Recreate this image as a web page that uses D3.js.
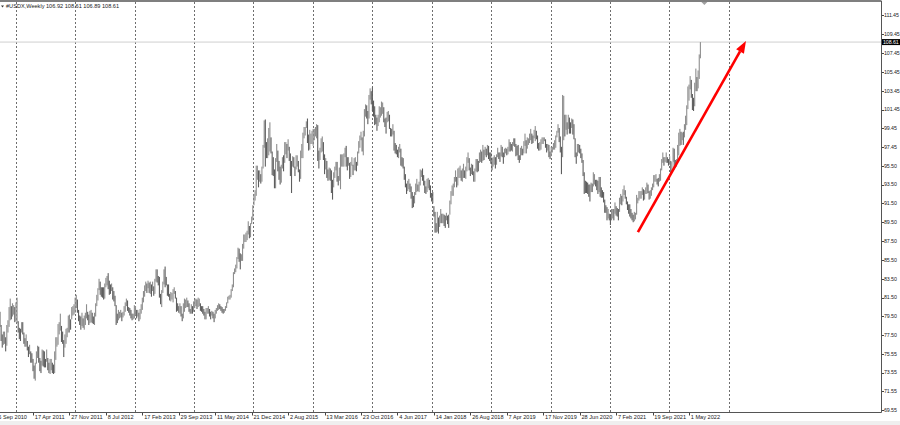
<!DOCTYPE html>
<html><head><meta charset="utf-8">
<script src="https://cdn.jsdelivr.net/npm/d3@7/dist/d3.min.js"></script>
<style>
html,body{margin:0;padding:0;background:#fff;overflow:hidden;}
svg{display:block;font-family:"Liberation Sans",Arial,sans-serif;}
</style></head><body>
<svg id="c" width="900" height="425"></svg>
<script>
// ---------- DATA ----------
const symbolName = "#USDX,Weekly";
const lastOHLC = [106.92, 108.61, 106.89, 108.61];
const firstWeek = "2010-09-19"; // weekly bars, one every 7 days from here
// weekly [low, high] per calendar year
const w2010 = [[79.8,81.6],[78.4,80.0],[76.9,78.6],[76.2,77.6],[76.5,77.9],[76.6,77.9],[75.8,77.3],[76.4,78.6],[77.8,79.1],[78.4,80.5],[79.1,81.4],[79.2,80.6],[79.5,80.9],[79.7,80.7],[78.9,80.5]];
const w2011 = [[79.0,81.0],[78.8,81.5],[77.8,79.0],[77.1,78.3],[76.9,78.2],[77.8,78.9],[77.6,78.9],[76.6,77.8],[76.3,77.2],[76.3,77.6],[75.9,76.9],[75.2,76.3],[75.5,76.5],[74.6,75.8],[74.6,75.6],[73.7,75.0],[72.9,74.3],[72.7,74.6],[74.5,75.8],[75.1,76.4],[74.6,76.3],[73.7,75.1],[73.5,74.8],[74.3,76.0],[74.2,75.9],[74.1,75.8],[74.1,75.0],[74.7,76.0],[73.8,75.1],[73.5,74.6],[73.4,75.0],[73.8,75.0],[73.5,74.6],[73.4,74.4],[73.5,75.8],[74.9,77.3],[76.3,77.3],[76.5,78.7],[77.6,78.9],[78.0,79.8],[76.8,78.5],[76.6,77.9],[75.2,77.0],[76.2,77.6],[76.6,78.2],[77.3,78.3],[77.8,79.6],[77.8,79.7],[78.1,79.2],[79.2,80.5],[79.6,80.6],[79.7,80.8]];
const w2012 = [[79.9,81.5],[80.4,81.8],[79.9,81.3],[79.0,80.2],[78.6,79.6],[78.1,79.5],[78.5,79.9],[78.3,79.3],[78.1,79.6],[78.6,79.9],[79.3,80.8],[79.1,80.0],[78.6,79.7],[78.8,80.1],[78.9,80.2],[78.8,79.9],[78.7,79.5],[78.6,79.9],[79.5,80.9],[80.6,81.8],[81.2,82.5],[82.3,83.5],[81.8,83.2],[81.6,82.6],[81.5,82.6],[81.3,82.6],[81.4,83.0],[82.6,83.6],[82.8,83.8],[82.4,84.1],[81.8,83.3],[81.9,82.9],[82.2,83.0],[81.3,82.6],[81.1,82.2],[80.6,81.7],[78.6,80.7],[78.8,79.8],[79.1,80.2],[79.3,80.0],[79.4,80.2],[79.0,79.9],[79.4,80.0],[79.6,80.6],[80.0,81.0],[80.6,81.4],[80.1,81.2],[79.9,80.5],[79.6,80.4],[79.3,80.2],[79.1,79.8],[79.2,79.8]];
const w2013 = [[79.3,80.7],[79.6,80.6],[79.3,80.2],[79.5,80.2],[79.0,79.9],[79.2,80.3],[79.8,80.8],[80.2,81.5],[81.0,82.2],[81.6,82.8],[82.2,83.2],[82.0,83.0],[82.5,83.3],[82.0,83.1],[81.9,83.2],[81.6,82.9],[82.2,83.2],[81.7,82.7],[81.9,83.5],[83.2,84.5],[83.1,84.5],[82.8,83.8],[81.5,83.7],[80.8,81.9],[80.5,82.3],[82.0,83.2],[82.9,84.5],[82.6,84.8],[82.8,83.7],[81.7,82.9],[81.6,82.9],[81.2,81.9],[81.1,82.1],[81.3,82.0],[81.0,82.4],[81.9,82.6],[81.4,82.2],[80.0,81.5],[80.1,80.9],[79.9,80.6],[79.8,80.9],[79.5,80.6],[79.0,79.8],[79.3,80.9],[80.0,81.4],[80.4,81.3],[80.5,81.5],[80.5,81.2],[80.0,80.9],[79.8,80.3],[79.8,80.8],[79.8,80.6]];
const w2014 = [[80.0,81.1],[80.4,81.3],[80.6,81.4],[80.3,81.3],[80.5,81.5],[80.6,81.4],[80.1,80.9],[80.0,80.6],[79.8,80.6],[79.6,80.3],[79.2,80.0],[79.2,80.4],[79.8,80.4],[79.8,80.6],[79.5,80.3],[79.2,80.0],[79.6,80.1],[79.3,80.0],[78.9,79.8],[79.3,80.2],[79.8,80.4],[80.1,80.7],[80.2,80.9],[80.3,80.8],[80.1,80.6],[79.9,80.5],[79.8,80.3],[79.9,80.3],[80.1,80.6],[80.4,81.0],[80.9,81.6],[81.3,81.7],[81.3,81.8],[81.5,82.4],[82.2,82.9],[82.6,84.2],[84.0,84.6],[84.2,85.0],[84.6,85.8],[85.6,86.8],[85.3,86.7],[84.5,86.2],[85.4,86.1],[85.4,87.2],[86.7,88.2],[87.4,88.2],[87.4,88.4],[87.6,88.6],[88.2,89.6],[87.8,89.1],[87.9,89.4],[89.3,90.1]];
const w2015 = [[89.7,91.3],[91.3,92.5],[91.8,92.9],[92.3,95.5],[94.0,95.5],[93.2,95.0],[93.8,95.0],[93.6,94.6],[93.8,95.4],[95.2,97.7],[97.4,100.3],[95.4,100.4],[96.3,98.0],[96.3,98.4],[96.6,99.5],[97.0,100.1],[96.8,98.5],[94.5,97.0],[94.4,96.4],[93.1,95.1],[93.1,96.3],[95.9,97.8],[94.9,97.1],[94.0,96.0],[93.5,95.4],[93.7,95.6],[95.2,96.4],[94.9,96.6],[95.8,98.0],[96.7,98.0],[96.3,97.8],[97.1,98.3],[96.0,97.5],[94.4,96.8],[92.6,96.0],[95.4,96.5],[95.3,96.4],[94.4,95.4],[95.1,96.6],[95.4,96.6],[94.8,96.0],[93.8,95.1],[94.1,97.1],[96.3,97.8],[96.3,99.0],[98.4,99.6],[98.7,99.6],[99.5,100.2],[97.9,100.5],[97.1,98.8],[97.2,99.3],[97.8,98.9],[97.8,99.2]];
const w2016 = [[97.6,99.4],[98.2,99.4],[98.6,99.6],[98.4,99.9],[96.0,99.8],[95.2,97.1],[96.1,97.4],[96.9,98.4],[97.0,98.6],[96.1,98.0],[94.6,96.7],[95.1,96.3],[94.2,96.0],[93.9,95.1],[94.0,95.3],[93.9,95.2],[92.6,95.0],[91.9,94.0],[93.2,94.8],[94.2,95.4],[95.0,95.9],[93.8,95.9],[93.4,94.4],[93.9,95.3],[93.0,96.7],[95.4,96.7],[95.4,96.7],[95.4,96.8],[96.4,97.4],[95.4,97.6],[95.0,96.4],[95.5,96.4],[94.1,95.8],[94.3,95.9],[95.5,96.4],[94.5,95.6],[95.0,96.3],[95.0,96.4],[94.9,95.9],[95.5,97.0],[96.8,98.1],[97.4,98.7],[98.2,99.1],[97.0,98.5],[96.6,99.2],[98.6,101.5],[100.7,102.0],[100.5,101.9],[99.9,101.3],[100.5,103.0],[102.5,103.7],[102.0,103.4]];
const w2017 = [[101.3,103.8],[100.7,102.4],[99.8,101.8],[99.9,100.9],[99.2,100.6],[99.7,100.9],[100.1,101.8],[100.6,101.7],[100.8,102.3],[101.0,102.2],[100.1,101.7],[99.6,100.5],[98.9,100.6],[100.1,101.2],[100.2,101.3],[99.4,100.9],[98.6,99.5],[98.6,99.4],[98.8,99.9],[97.1,99.2],[96.8,97.9],[96.7,97.7],[96.4,97.2],[96.3,97.5],[96.9,97.8],[95.5,97.3],[95.4,96.4],[95.2,96.3],[94.0,95.4],[93.2,94.6],[92.5,93.6],[92.8,93.9],[93.0,94.1],[92.7,93.6],[92.0,93.3],[91.0,92.7],[91.1,92.3],[91.5,92.7],[92.4,93.6],[92.7,94.1],[92.8,93.5],[92.7,93.8],[93.4,95.1],[94.3,95.0],[93.9,95.2],[93.4,94.5],[92.6,93.9],[92.5,93.3],[92.7,94.1],[93.1,94.2],[92.9,94.0],[92.1,93.4]];
const w2018 = [[91.7,92.6],[91.5,92.7],[90.1,91.2],[88.4,90.6],[88.4,89.4],[88.5,90.6],[88.3,90.0],[89.0,90.2],[89.4,90.9],[89.4,90.4],[89.4,90.4],[89.1,90.3],[88.9,90.2],[89.7,90.5],[89.3,90.2],[88.9,90.3],[90.3,91.8],[91.4,92.8],[92.3,93.4],[92.3,93.6],[93.2,94.3],[93.8,95.0],[93.2,94.3],[93.4,95.2],[94.2,95.3],[94.2,95.5],[93.9,95.0],[93.8,95.2],[94.2,95.7],[94.2,95.0],[94.1,95.4],[94.9,96.4],[95.8,96.9],[95.0,96.3],[94.4,95.3],[94.6,95.7],[94.5,95.6],[93.8,94.9],[93.8,95.2],[94.9,96.2],[94.8,96.2],[94.9,96.0],[95.8,96.9],[95.9,97.2],[95.8,97.0],[96.0,97.7],[96.1,97.2],[96.6,97.5],[96.4,97.3],[96.6,97.7],[96.2,97.6],[96.0,96.9]];
const w2019 = [[95.7,96.9],[95.0,96.3],[95.4,96.4],[95.6,96.6],[95.2,96.4],[95.6,96.7],[96.4,97.4],[96.2,96.9],[95.9,96.9],[96.5,97.7],[96.4,97.5],[95.7,96.9],[96.4,97.3],[96.8,97.4],[96.6,97.3],[96.7,97.5],[97.0,98.3],[97.0,98.0],[97.1,97.8],[97.0,98.0],[97.6,98.4],[97.5,98.4],[96.5,97.8],[96.6,97.6],[96.1,97.7],[95.8,96.6],[96.1,97.4],[96.6,97.6],[96.6,97.3],[96.8,98.1],[97.6,98.9],[96.8,98.2],[97.3,98.5],[97.7,98.4],[97.9,98.9],[98.2,99.4],[97.8,98.9],[97.9,98.7],[98.4,99.3],[98.1,99.7],[98.3,99.2],[97.3,98.7],[97.1,97.9],[97.1,98.0],[97.2,98.3],[97.8,98.5],[97.8,98.5],[98.1,98.5],[97.4,98.3],[96.9,97.8],[97.1,97.8],[96.4,97.7]];
const w2020 = [[96.2,97.0],[96.5,97.5],[96.9,97.5],[97.2,97.9],[97.2,98.2],[97.4,98.7],[98.5,99.2],[99.0,99.9],[98.0,99.5],[96.9,98.6],[94.6,97.5],[96.4,103.0],[98.2,102.9],[98.6,100.9],[99.3,100.9],[98.8,100.1],[99.4,100.9],[98.9,100.6],[98.9,100.1],[99.5,100.5],[98.8,100.4],[98.3,99.9],[96.4,98.4],[95.7,96.9],[96.5,97.8],[96.9,97.8],[96.8,97.7],[96.3,97.3],[95.8,96.8],[94.4,96.1],[92.5,94.8],[92.6,93.9],[92.6,93.8],[92.5,93.7],[92.2,93.5],[91.7,93.5],[92.7,93.7],[92.7,93.6],[93.3,94.8],[93.5,94.6],[93.3,94.0],[92.9,94.0],[92.5,93.9],[92.7,94.3],[92.2,94.3],[92.1,93.2],[92.1,92.9],[91.6,92.7],[90.5,91.9],[90.5,91.3],[89.7,91.1],[89.9,90.9],[89.7,90.4]];
const w2021 = [[89.2,90.3],[89.7,90.9],[89.9,90.9],[89.7,90.9],[90.4,91.6],[90.2,91.2],[90.1,91.0],[89.7,90.9],[90.6,92.1],[91.4,92.5],[91.3,92.3],[91.7,93.0],[92.4,93.4],[92.0,92.9],[91.4,92.2],[90.8,91.7],[90.4,91.4],[90.1,91.4],[89.9,90.9],[89.7,90.5],[89.5,90.3],[89.6,90.6],[89.8,90.5],[90.3,92.4],[91.5,92.1],[91.8,92.8],[92.0,92.8],[92.0,92.8],[92.4,93.2],[91.8,93.0],[91.9,92.9],[92.5,93.2],[92.5,93.7],[92.6,93.5],[91.9,92.8],[92.0,92.9],[92.3,93.2],[92.9,93.6],[93.2,94.5],[93.8,94.5],[93.8,94.6],[93.5,94.1],[93.3,94.2],[93.8,94.6],[93.9,95.2],[95.0,96.2],[95.8,96.9],[95.5,96.4],[95.9,96.4],[95.8,96.9],[95.8,96.4],[95.5,96.2]];
const w2022 = [[95.6,96.5],[94.6,96.0],[94.8,95.9],[95.9,97.4],[95.1,97.3],[95.3,96.1],[95.4,96.2],[95.9,97.7],[96.6,99.0],[97.6,99.4],[97.7,99.1],[98.2,99.0],[97.7,99.1],[98.5,99.9],[99.3,100.8],[99.8,101.9],[101.5,103.9],[102.4,104.1],[103.6,105.0],[102.7,104.6],[101.4,103.1],[101.3,102.7],[101.8,104.3],[103.4,105.8],[103.4,104.9],[103.7,105.6],[104.7,107.3],[106.89,108.61]];
const priceTicks = [111.45,109.45,107.45,105.45,103.45,101.45,99.45,97.45,95.50,93.50,91.50,89.50,87.50,85.50,83.50,81.50,79.50,77.50,75.55,73.55,71.55,69.55];
const dateTicks = ["5 Sep 2010","17 Apr 2011","27 Nov 2011","8 Jul 2012","17 Feb 2013","29 Sep 2013","11 May 2014","21 Dec 2014","2 Aug 2015","13 Mar 2016","23 Oct 2016","4 Jun 2017","14 Jan 2018","26 Aug 2018","7 Apr 2019","17 Nov 2019","28 Jun 2020","7 Feb 2021","19 Sep 2021","1 May 2022"];
const gridYears = [2011,2012,2013,2014,2015,2016,2017,2018,2019,2020,2021,2022,2023];
const arrowFrom = {date:"2021-06-21", price:88.45};
const arrowTo   = {date:"2023-04-16", price:108.72};

// ---------- BUILD ----------
const years = [w2010,w2011,w2012,w2013,w2014,w2015,w2016,w2017,w2018,w2019,w2020,w2021,w2022];
const parseISO = d3.timeParse("%Y-%m-%d");
const parseTick = d3.timeParse("%d %b %Y");
const start = parseISO(firstWeek);
const bars = [];
years.flat().forEach((p,i)=>{
  bars.push({date:d3.timeDay.offset(start, 7*i), low:p[0], high:p[1]});
});

const svg = d3.select("#c");
const plotRight = 881, plotBottom = 412, plotTop = 1;
const x = d3.scaleTime()
  .domain([parseTick("17 Apr 2011"), parseTick("1 May 2022")])
  .range([33, 689]);
const y = d3.scaleLinear().domain([69.55, 111.45]).range([410.3, 15.3]);

// light bottom band
svg.append("rect").attr("x",0).attr("y",421).attr("width",900).attr("height",4).attr("fill","#efefef");

// vertical year grid (dotted)
svg.append("g").selectAll("line").data(gridYears).join("line")
  .attr("x1",d=>Math.round(x(new Date(d,0,1)))+0.5)
  .attr("x2",d=>Math.round(x(new Date(d,0,1)))+0.5)
  .attr("y1",plotTop+1).attr("y2",plotBottom)
  .attr("stroke","#6e6e6e").attr("stroke-width",1).attr("stroke-dasharray","2,2");

// bid line
svg.append("line").attr("x1",0).attr("x2",plotRight)
  .attr("y1",y(lastOHLC[3])).attr("y2",y(lastOHLC[3]))
  .attr("stroke","#cfcfcf").attr("stroke-width",1);

// bars
svg.append("g").selectAll("rect").data(bars).join("rect")
  .attr("x",d=>x(d.date)-0.55)
  .attr("width",1.1)
  .attr("y",d=>y(d.high))
  .attr("height",d=>Math.max(1,y(d.low)-y(d.high)))
  .attr("fill",(d,i)=>{
    if(i===0) return "#6a6a6a";
    const p = bars[i-1];
    return (d.low+d.high) >= (p.low+p.high) ? "#8e8e8e" : "#5e5e5e";
  });

// frame
svg.append("line").attr("x1",0).attr("x2",plotRight+0.5).attr("y1",1).attr("y2",1).attr("stroke","#555").attr("stroke-width",1.5);
svg.append("line").attr("x1",plotRight+0.5).attr("x2",plotRight+0.5).attr("y1",1).attr("y2",plotBottom+0.5).attr("stroke","#555").attr("stroke-width",1);
svg.append("line").attr("x1",0).attr("x2",plotRight+0.5).attr("y1",plotBottom+0.5).attr("y2",plotBottom+0.5).attr("stroke","#555").attr("stroke-width",1);

// right price axis
const ya = svg.append("g");
ya.selectAll("line").data(priceTicks).join("line")
  .attr("x1",plotRight+1).attr("x2",plotRight+3)
  .attr("y1",d=>Math.round(y(d))+0.5).attr("y2",d=>Math.round(y(d))+0.5)
  .attr("stroke","#444");
ya.selectAll("text").data(priceTicks).join("text")
  .attr("x",plotRight+3).attr("y",d=>y(d)).attr("dy","0.35em")
  .attr("font-size","5.3px").attr("letter-spacing","-0.1px").attr("fill","#222")
  .text(d=>d.toFixed(2));

// current price tag
const py = y(lastOHLC[3]);
svg.append("rect").attr("x",plotRight+1).attr("y",py-3).attr("width",19).attr("height",6).attr("fill","#000");
svg.append("text").attr("x",plotRight+2).attr("y",py).attr("dy","0.35em")
  .attr("font-size","5.3px").attr("letter-spacing","-0.1px").attr("fill","#fff").text(lastOHLC[3].toFixed(2));

// bottom date axis
const xa = svg.append("g");
const tickDates = dateTicks.map(t=>({t, d:parseTick(t)}));
xa.selectAll("line").data(tickDates).join("line")
  .attr("x1",d=>Math.round(x(d.d))+0.5).attr("x2",d=>Math.round(x(d.d))+0.5)
  .attr("y1",plotBottom+1).attr("y2",plotBottom+3.5).attr("stroke","#444");
xa.selectAll("text").data(tickDates).join("text")
  .attr("x",d=>x(d.d)+1.8).attr("y",417.2).attr("dy","0.35em")
  .attr("font-size","5.6px").attr("fill","#222")
  .text(d=>d.t);

// header
svg.append("path").attr("d","M1,5.5 L4,5.5 L2.5,7.5 Z").attr("fill","#333");
svg.append("text").attr("x",6).attr("y",6.5).attr("dy","0.35em")
  .attr("font-size","5.6px").attr("fill","#222")
  .text(symbolName + " " + lastOHLC.map(v=>v.toFixed(2)).join(" "));

// chart shift marker
const lastX = x(bars[bars.length-1].date);
svg.append("path").attr("d",`M${lastX+1},2 L${lastX+7},2 L${lastX+4},5 Z`).attr("fill","#a0a0a0");

// red arrow annotation
const ax1 = x(parseISO(arrowFrom.date)), ay1 = y(arrowFrom.price);
const ax2 = x(parseISO(arrowTo.date)), ay2 = y(arrowTo.price);
const ang = Math.atan2(ay2-ay1, ax2-ax1);
const headLen = 12, headW = 4.5;
const bx = ax2 - headLen*Math.cos(ang), by = ay2 - headLen*Math.sin(ang);
svg.append("line").attr("x1",ax1).attr("y1",ay1).attr("x2",bx).attr("y2",by)
  .attr("stroke","#ff0000").attr("stroke-width",2.6);
const nx = -Math.sin(ang), ny = Math.cos(ang);
svg.append("path")
  .attr("d",`M${ax2},${ay2} L${bx+nx*headW},${by+ny*headW} L${bx-nx*headW},${by-ny*headW} Z`)
  .attr("fill","#ff0000");
</script>
</body></html>
